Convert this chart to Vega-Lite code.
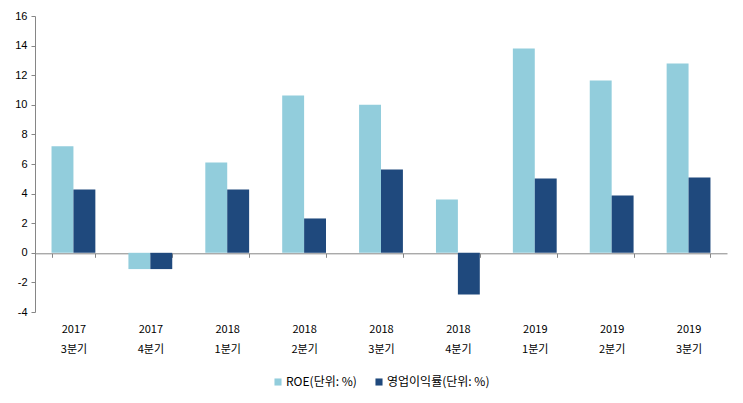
{
  "$schema": "https://vega.github.io/schema/vega-lite/v6.json",
  "width": 692,
  "height": 296,
  "autosize": "none",
  "padding": {"left": 35, "top": 16, "right": 16, "bottom": 91},
  "background": "white",
  "data": {
    "values": [
      {"period": "2017 3분기", "series": "ROE(단위: %)", "value": 7.2},
      {"period": "2017 3분기", "series": "영업이익률(단위: %)", "value": 4.28},
      {"period": "2017 4분기", "series": "ROE(단위: %)", "value": -1.1},
      {"period": "2017 4분기", "series": "영업이익률(단위: %)", "value": -1.1},
      {"period": "2018 1분기", "series": "ROE(단위: %)", "value": 6.1},
      {"period": "2018 1분기", "series": "영업이익률(단위: %)", "value": 4.28},
      {"period": "2018 2분기", "series": "ROE(단위: %)", "value": 10.63},
      {"period": "2018 2분기", "series": "영업이익률(단위: %)", "value": 2.32},
      {"period": "2018 3분기", "series": "ROE(단위: %)", "value": 10.0},
      {"period": "2018 3분기", "series": "영업이익률(단위: %)", "value": 5.63},
      {"period": "2018 4분기", "series": "ROE(단위: %)", "value": 3.6},
      {"period": "2018 4분기", "series": "영업이익률(단위: %)", "value": -2.82},
      {"period": "2019 1분기", "series": "ROE(단위: %)", "value": 13.8},
      {"period": "2019 1분기", "series": "영업이익률(단위: %)", "value": 5.02},
      {"period": "2019 2분기", "series": "ROE(단위: %)", "value": 11.64},
      {"period": "2019 2분기", "series": "영업이익률(단위: %)", "value": 3.87},
      {"period": "2019 3분기", "series": "ROE(단위: %)", "value": 12.79},
      {"period": "2019 3분기", "series": "영업이익률(단위: %)", "value": 5.09}
    ]
  },
  "mark": {"type": "bar"},
  "encoding": {
    "x": {
      "field": "period",
      "type": "nominal",
      "sort": null,
      "scale": {"paddingInner": 0.43, "paddingOuter": 0.215},
      "axis": {
        "title": null,
        "offset": -58.7,
        "domainColor": "#868686",
        "tickColor": "#868686",
        "tickSize": 4,
        "tickBand": "extent",
        "labelPadding": 66,
        "labelAngle": 0,
        "labelExpr": "split(datum.label, ' ')",
        "labelLineHeight": 20,
        "labelFont": "Noto Sans CJK KR",
        "labelFontSize": 11,
        "labelColor": "black"
      }
    },
    "xOffset": {"field": "series", "sort": null},
    "y": {
      "field": "value",
      "type": "quantitative",
      "scale": {"domain": [-4, 16], "nice": false},
      "axis": {
        "title": null,
        "values": [-4, -2, 0, 2, 4, 6, 8, 10, 12, 14, 16],
        "labelExpr": "replace(datum.label, '−', '-')",
        "grid": false,
        "domainColor": "#868686",
        "tickColor": "#868686",
        "tickSize": 4,
        "labelPadding": 4,
        "labelFont": "Liberation Sans",
        "labelFontSize": 11,
        "labelColor": "black"
      }
    },
    "color": {
      "field": "series",
      "type": "nominal",
      "sort": null,
      "scale": {"range": ["#92CDDC", "#1F497D"]},
      "legend": {
        "orient": "bottom",
        "title": null,
        "direction": "horizontal",
        "symbolType": "square",
        "symbolSize": 50,
        "symbolStrokeWidth": 0,
        "labelOffset": 2,
        "labelFont": "Noto Sans CJK KR",
        "labelFontSize": 12,
        "labelColor": "black",
        "columnPadding": 16,
        "offset": 21
      }
    }
  },
  "config": {
    "view": {"stroke": null},
    "legend": {"layout": {"bottom": {"anchor": "middle"}}}
  }
}
